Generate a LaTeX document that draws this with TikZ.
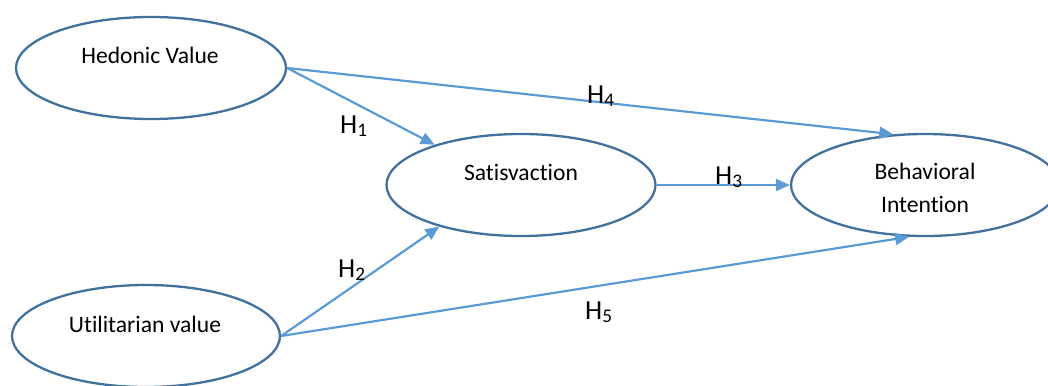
\documentclass[tikz,border=0pt]{standalone}
\usepackage{fontspec}
\setmainfont{Carlito}[RawFeature={-liga;-clig;-calt;-dlig}]
\usetikzlibrary{shapes.geometric,arrows.meta}
\definecolor{ellblue}{HTML}{41719C}
\definecolor{arrblue}{HTML}{5B9BD5}
\tikzset{
  construct/.style={ellipse, draw=ellblue, line width=2.3pt, fill=white, inner sep=0pt,
    minimum width=268pt, minimum height=102pt},
  ctext/.style={font=\fontsize{23.6}{33}\selectfont, inner sep=0pt, anchor=base, align=center},
  hyp/.style={font=\fontsize{27.5}{32}\selectfont, inner sep=0pt, anchor=base west},
  path/.style={draw=arrblue, line width=2.2pt, -{Triangle[length=14pt,width=12pt]}},
}
\begin{document}
\begin{tikzpicture}[x=1pt,y=-1pt]
\useasboundingbox (0,0) rectangle (1048,385);
\node[construct, minimum width=270pt] (hed) at (151,68) {};
\node[construct, minimum width=269pt] (sat) at (521,185) {};
\node[construct] (uti) at (146,336) {};
\node[construct] (beh) at (925,185) {};
\node[ctext] (hedt) at (150,64) {Hedonic Value};
\node[ctext] (satt) at (521,180) {Satisvaction};
\node[ctext] (utit) at (145,332) {Utilitarian value};
\node[ctext] (beht1) at (925,179) {Behavioral};
\node[ctext] (beht2) at (925,212) {Intention};
\draw[path] (hed.east) -- (sat.155);
\draw[path] (hed.east) -- (beh.122);
\draw[path] (uti.east) -- (sat.207);
\draw[path] (uti.east) -- (beh.253);
\draw[path] (sat.east) -- (beh.west);
\node[hyp] (h1) at (340,133) {H\textsubscript{1}};
\node[hyp] (h4) at (587,103) {H\textsubscript{4}};
\node[hyp] (h3) at (715,184) {H\textsubscript{3}};
\node[hyp] (h2) at (338,277) {H\textsubscript{2}};
\node[hyp] (h5) at (585,319) {H\textsubscript{5}};
\end{tikzpicture}
\end{document}
